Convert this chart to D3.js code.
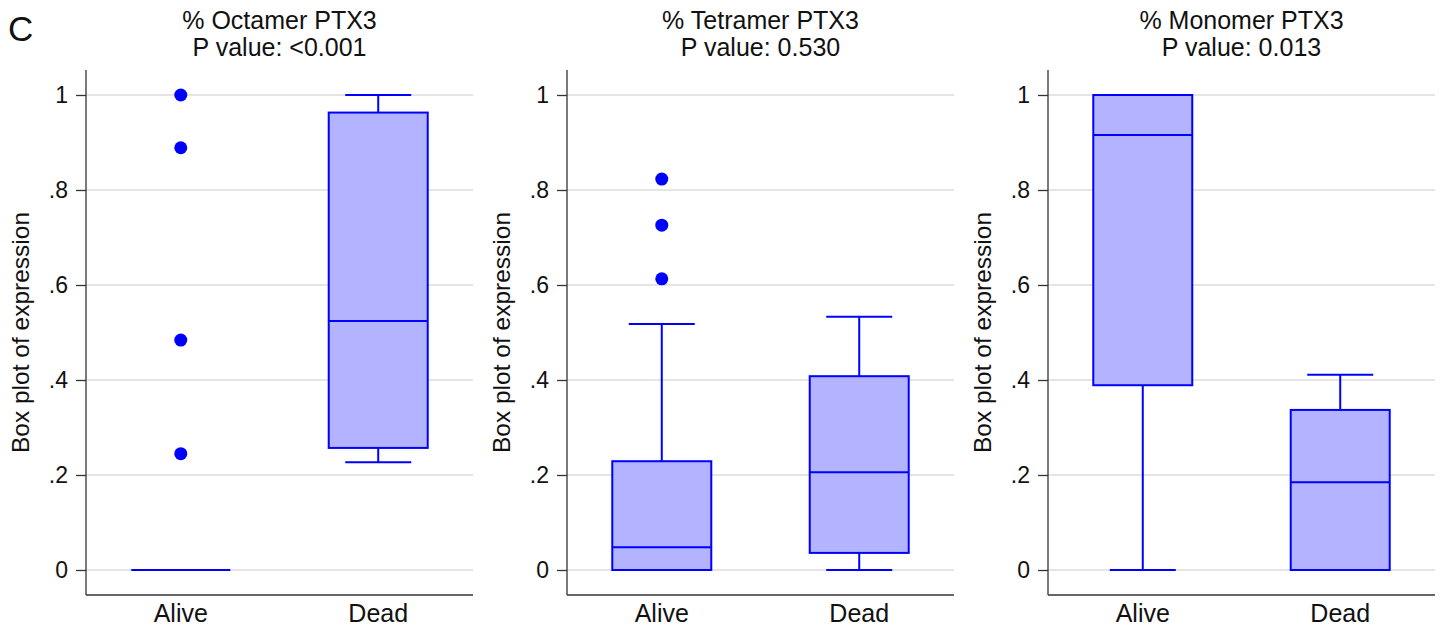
<!DOCTYPE html>
<html>
<head>
<meta charset="utf-8">
<script src="https://cdn.jsdelivr.net/npm/d3@7"></script>
<style>
  body { margin: 0; background: #fff; }
  text { font-family: "Liberation Sans", Arial, Helvetica, sans-serif; fill: #111; }
</style>
</head>
<body>
<script>
var w = 1444, h = 628;

var groups = ["Alive", "Dead"];
var titles = ["% Octamer PTX3", "% Tetramer PTX3", "% Monomer PTX3"];
var pValues = ["P value: <0.001", "P value: 0.530", "P value: 0.013"];
var yTicks = [0, 0.2, 0.4, 0.6, 0.8, 1];

// box stats per panel per group: [lowWhisker, q1, median, q3, highWhisker]
var octamerStats = [[0, 0, 0, 0, 0], [0.227, 0.257, 0.524, 0.963, 1]];
var tetramerStats = [[0, 0, 0.048, 0.229, 0.518], [0, 0.036, 0.206, 0.408, 0.533]];
var monomerStats = [[0, 0.389, 0.916, 1, 1], [0, 0, 0.185, 0.337, 0.411]];

var octamerOutliers = [[1, 0.889, 0.484, 0.245], []];
var tetramerOutliers = [[0.823, 0.726, 0.613], []];
var monomerOutliers = [[], []];

var panelStats = [octamerStats, tetramerStats, monomerStats];
var panelOutliers = [octamerOutliers, tetramerOutliers, monomerOutliers];
var panelLeft = [86, 567, 1048];

var plotW = 387, plotTop = 70, plotBottom = 595;
var boxW = 99, capW = 66;
var blue = "#0000ff", fill = "#b3b3ff";

var svg = d3.select("body").append("svg")
    .attr("width", w).attr("height", h);

svg.append("text")
    .attr("x", 8).attr("y", 41)
    .attr("font-size", 35)
    .text("C");

var yScale = d3.scaleLinear().domain([0, 1]).range([570, 95]);

function fmt(v) {
  if (v === 0 || v === 1) return String(v);
  return d3.format(".1f")(v).replace(/^0/, "");
}

panelStats.forEach(function(stats, p) {
  var left = panelLeft[p];
  var g = svg.append("g").attr("transform", "translate(" + left + ",0)");
  var xScale = d3.scalePoint().domain(groups).range([0, plotW]).padding(0.48);

  // grid
  g.selectAll("line.grid").data(yTicks).enter().append("line")
      .attr("x1", 0).attr("x2", plotW)
      .attr("y1", function(d) { return yScale(d); })
      .attr("y2", function(d) { return yScale(d); })
      .attr("stroke", "#dcdcdc").attr("stroke-width", 1.3);

  // y axis
  var yAxis = d3.axisLeft(yScale).tickValues(yTicks).tickSize(10).tickPadding(8).tickFormat(fmt);
  var ya = g.append("g").call(yAxis);
  ya.select(".domain").remove();
  ya.selectAll(".tick line").attr("stroke", "#333").attr("stroke-width", 1.3);
  ya.selectAll(".tick text").attr("font-size", 23).attr("fill", "#111")
      .attr("font-family", "Liberation Sans, Arial, sans-serif");
  g.append("line").attr("x1", 0).attr("x2", 0).attr("y1", plotTop).attr("y2", plotBottom)
      .attr("stroke", "#333").attr("stroke-width", 1.3);

  // x axis
  g.append("line").attr("x1", 0).attr("x2", plotW).attr("y1", plotBottom).attr("y2", plotBottom)
      .attr("stroke", "#333").attr("stroke-width", 1.3);
  g.selectAll("text.xl").data(groups).enter().append("text")
      .attr("x", function(d) { return xScale(d); })
      .attr("y", 622)
      .attr("text-anchor", "middle")
      .attr("font-size", 25)
      .text(function(d) { return d; });

  // y label
  g.append("text")
      .attr("transform", "translate(" + (-57) + "," + ((plotTop + plotBottom) / 2) + ") rotate(-90)")
      .attr("text-anchor", "middle")
      .attr("font-size", 24.5)
      .text("Box plot of expression");

  // titles
  g.append("text").attr("x", plotW / 2).attr("y", 29).attr("text-anchor", "middle")
      .attr("font-size", 25).text(titles[p]);
  g.append("text").attr("x", plotW / 2).attr("y", 56).attr("text-anchor", "middle")
      .attr("font-size", 25).text(pValues[p]);

  // boxes
  stats.forEach(function(s, i) {
    var cx = xScale(groups[i]);
    var bg = g.append("g");
    // whiskers
    if (s[4] > s[3]) {
      bg.append("line").attr("x1", cx).attr("x2", cx)
          .attr("y1", yScale(s[3])).attr("y2", yScale(s[4]))
          .attr("stroke", blue).attr("stroke-width", 2);
    }
    if (s[1] > s[0]) {
      bg.append("line").attr("x1", cx).attr("x2", cx)
          .attr("y1", yScale(s[1])).attr("y2", yScale(s[0]))
          .attr("stroke", blue).attr("stroke-width", 2);
    }
    [s[0], s[4]].forEach(function(v, k) {
      if ((k === 0 && s[1] > s[0]) || (k === 1 && s[4] > s[3])) {
        bg.append("line").attr("x1", cx - capW / 2).attr("x2", cx + capW / 2)
            .attr("y1", yScale(v)).attr("y2", yScale(v))
            .attr("stroke", blue).attr("stroke-width", 2);
      }
    });
    if (s[3] > s[1]) {
      bg.append("rect")
          .attr("x", cx - boxW / 2).attr("width", boxW)
          .attr("y", yScale(s[3])).attr("height", yScale(s[1]) - yScale(s[3]))
          .attr("fill", fill).attr("stroke", blue).attr("stroke-width", 2);
    }
    bg.append("line").attr("x1", cx - boxW / 2).attr("x2", cx + boxW / 2)
        .attr("y1", yScale(s[2])).attr("y2", yScale(s[2]))
        .attr("stroke", blue).attr("stroke-width", 2);

    bg.selectAll("circle").data(panelOutliers[p][i]).enter().append("circle")
        .attr("cx", cx).attr("cy", function(d) { return yScale(d); })
        .attr("r", 6.5).attr("fill", blue);
  });
});
</script>
</body>
</html>
